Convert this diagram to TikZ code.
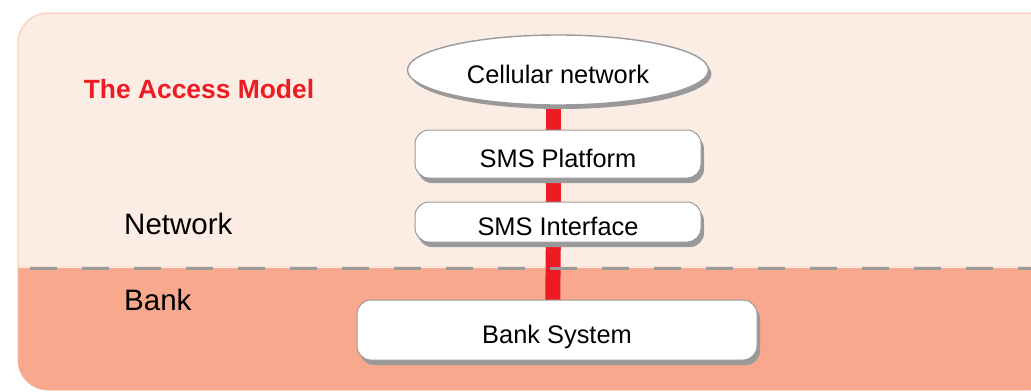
\documentclass[tikz,border=0pt]{standalone}
\usepackage{fontspec}
\setmainfont{Liberation Sans}
\usetikzlibrary{shapes.geometric,shadows}
\definecolor{panelTop}{HTML}{FCEDE4}
\definecolor{panelBot}{HTML}{F8A98D}
\definecolor{panelEdge}{HTML}{F9C6B0}
\definecolor{barRed}{HTML}{ED1C24}
\definecolor{edgeGray}{HTML}{9A9A9A}
\definecolor{shadowGray}{HTML}{999999}
\pgfdeclarelayer{bg}
\pgfdeclarelayer{conn}
\pgfsetlayers{bg,conn,main}
\tikzset{
  boxtext/.style={font=\fontsize{25.4}{30}\selectfont, text height=26pt, text depth=0pt},
  sysbox/.style={draw=edgeGray, line width=1pt, fill=white, rounded corners=14pt,
    drop shadow={shadow xshift=3pt, shadow yshift=-5pt, fill=shadowGray, opacity=1},
    boxtext, inner sep=0pt},
  netellipse/.style={ellipse, draw=edgeGray, line width=1.4pt, fill=white,
    drop shadow={shadow xshift=3pt, shadow yshift=-4pt, fill=shadowGray, opacity=1},
    boxtext, inner sep=0pt},
  layertext/.style={font=\fontsize{29.5}{34}\selectfont, anchor=west, inner sep=0pt},
  redbar/.style={barRed, line width=15pt},
  divider/.style={edgeGray, line width=3pt, dash pattern=on 27pt off 25pt, dash phase=40pt}
}
\begin{document}
\begin{tikzpicture}[x=1pt, y=-1pt]
\useasboundingbox (0,0) rectangle (1031,391);
\begin{pgfonlayer}{bg}
  \begin{scope}
    \clip (0,0) rectangle (1031,391);
    \fill[panelTop, draw=panelEdge, line width=1pt, rounded corners=30pt] (18,13) rectangle (1060,390);
    \begin{scope}
      \clip[rounded corners=30pt] (18,13) rectangle (1060,390);
      \fill[panelBot] (0,268) rectangle (1060,391);
    \end{scope}
    \draw[panelEdge!60!white, line width=0.8pt] (18,266.2) -- (1031,266.2);
  \end{scope}
\end{pgfonlayer}

\node[netellipse, minimum width=301pt, minimum height=70pt] (cell) at (558,70) {Cellular network};
\node[sysbox, minimum width=286pt, minimum height=48pt] (plat) at (558,154) {SMS Platform};
\node[sysbox, minimum width=286pt, minimum height=40pt] (intf) at (558,222) {SMS Interface};
\node[sysbox, minimum width=400pt, minimum height=60pt] (bank) at (557,330) {Bank System};

\node[font=\bfseries\fontsize{26.4}{31}\selectfont, text=barRed, inner sep=0pt] (title) at (199,89) {The Access Model};
\node[layertext] (netlbl) at (124,224) {Network};
\node[layertext] (banklbl) at (124,300) {Bank};

\begin{pgfonlayer}{conn}
  \draw[redbar] ([xshift=-4.5pt]cell.center) -- ([xshift=-4.5pt]plat.center);
  \draw[redbar] ([xshift=-4.5pt]plat.center) -- ([xshift=-4.5pt]intf.center);
  \draw[redbar] ([xshift=-4.5pt]intf.center) -- ([xshift=-4.5pt]bank.center);
  \coordinate (divL) at (18,268);
  \coordinate (divR) at (1031,268);
  \draw[divider] (divL) -- (divR);
\end{pgfonlayer}
\end{tikzpicture}
\end{document}
